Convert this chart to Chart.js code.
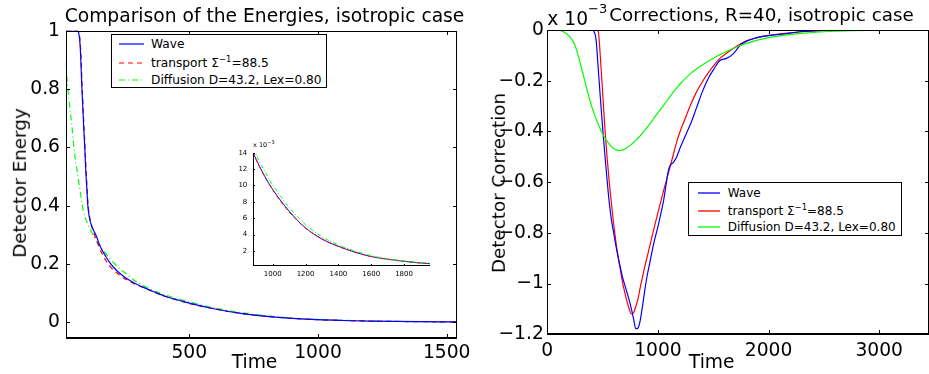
<!DOCTYPE html>
<html>
<head>
<meta charset="utf-8">
<script src="https://cdn.jsdelivr.net/npm/chart.js@4.4.0/dist/chart.umd.min.js"></script>
<style>
  body { margin: 0; background: #fff; }
  #wrap { position: relative; width: 929px; height: 374px; overflow: hidden; background: #fff;
          font-family: "DejaVu Sans", sans-serif; color: #000; }
  canvas { position: absolute; }
  .t { position: absolute; white-space: nowrap; font-size: 18.7px; line-height: 18.7px; }
  .rot { transform: translate(-50%, -50%) rotate(-90deg); }
  .legend { position: absolute; border: 1px solid #000; background: #fff; box-sizing: border-box; }
  .legend .row { position: absolute; height: 14px; line-height: 14px; font-size: 12.2px; white-space: nowrap; }
  .legend svg { position: absolute; }
  sup { font-size: 8.5px; vertical-align: 5px; line-height: 0; }
</style>
</head>
<body>
<div id="wrap">
  <canvas id="left" width="480" height="374" style="left:0;top:0"></canvas>
  <canvas id="inset" width="220" height="145" style="left:220px;top:135px"></canvas>
  <canvas id="right" width="459" height="374" style="left:470px;top:0"></canvas>

  <div class="t" style="left:264.5px;top:6.9px;transform:translateX(-50%)">Comparison of the Energies, isotropic case</div>
  <div class="t rot" style="left:19.5px;top:183px;font-size:18.3px;line-height:18.3px">Detector Energy</div>
  <div class="t" style="left:254.5px;top:352.8px;transform:translateX(-50%)">Time</div>

  <div class="t" style="left:547.3px;top:9.2px">x 10<span style="font-size:13px;vertical-align:12px;line-height:0">&minus;3</span></div>
  <div class="t" style="left:609.3px;top:5.5px;font-size:18.3px;line-height:18.3px">Corrections, R=40, isotropic case</div>
  <div class="t rot" style="left:498.7px;top:183.3px;font-size:18.3px;line-height:18.3px">Detector Correction</div>
  <div class="t" style="left:711.7px;top:352.5px;transform:translateX(-50%)">Time</div>

  <div class="t" style="left:253px;top:141.5px;font-size:6.5px;line-height:6.5px">x 10<span style="font-size:5px;vertical-align:3px;line-height:0">&minus;3</span></div>

  <div class="legend" style="left:111px;top:34px;width:216px;height:54px">
    <div class="row" style="left:39px;top:2.3px">Wave</div>
    <div class="row" style="left:39px;top:20.7px">transport &Sigma;<sup>&minus;1</sup>=88.5</div>
    <div class="row" style="left:39px;top:38.3px">Diffusion D=43.2, Lex=0.80</div>
    <svg style="left:7px;top:6.3px" width="25" height="6"><line x1="0" y1="3" x2="25" y2="3" stroke="#0000ff" stroke-width="1.2"/></svg>
    <svg style="left:7px;top:24.7px" width="25" height="6"><line x1="0" y1="3" x2="25" y2="3" stroke="#ff0000" stroke-width="1.2" stroke-dasharray="5 4"/></svg>
    <svg style="left:7px;top:42.3px" width="25" height="6"><line x1="0" y1="3" x2="25" y2="3" stroke="#00ff00" stroke-width="1.2" stroke-dasharray="6 3 1 3"/></svg>
  </div>

  <div class="legend" style="left:688px;top:182px;width:214px;height:54px;font-size:12px">
    <div class="row" style="left:38.7px;top:3.4px;font-size:12px">Wave</div>
    <div class="row" style="left:38.7px;top:20.7px;font-size:12px">transport &Sigma;<sup>&minus;1</sup>=88.5</div>
    <div class="row" style="left:38.7px;top:37.4px;font-size:12px">Diffusion D=43.2, Lex=0.80</div>
    <svg style="left:8.7px;top:7.4px" width="22" height="6"><line x1="0" y1="3" x2="22" y2="3" stroke="#0000ff" stroke-width="1.3"/></svg>
    <svg style="left:8.7px;top:24.7px" width="22" height="6"><line x1="0" y1="3" x2="22" y2="3" stroke="#ff0000" stroke-width="1.3"/></svg>
    <svg style="left:8.7px;top:41.4px" width="22" height="6"><line x1="0" y1="3" x2="22" y2="3" stroke="#00ff00" stroke-width="1.3"/></svg>
  </div>
</div>

<script>
// left panel: detector energy vs time
const leftTime = [20, 25, 30, 35, 40, 45, 50, 55, 60, 65, 68, 71, 74, 77, 80, 83, 86, 90, 94, 98,
  102, 106, 110, 115, 120, 128, 138, 150, 160, 175, 190, 205, 225, 250, 288, 320, 360, 411, 460, 500,
  600, 700, 800, 900, 1000, 1100, 1200, 1300, 1400, 1540];
const leftWave = [1, 1, 1, 1, 1, 1, 1, 1, 1, 1, 0.998, 0.99, 0.972, 0.935, 0.87, 0.8, 0.745, 0.67, 0.6, 0.52,
  0.46, 0.4, 0.37, 0.348, 0.333, 0.316, 0.298, 0.27, 0.25, 0.227, 0.207, 0.19, 0.172, 0.155, 0.134, 0.121, 0.106, 0.088, 0.076, 0.066,
  0.046, 0.031, 0.021, 0.0142, 0.0095, 0.0067, 0.0047, 0.0034, 0.0025, 0.0017];
const leftTransport = [1, 1, 1, 1, 1, 1, 1, 1, 1, 1, 1, 0.995, 0.982, 0.952, 0.9, 0.83, 0.77, 0.69, 0.62, 0.545,
  0.48, 0.415, 0.38, 0.352, 0.333, 0.31, 0.285, 0.258, 0.238, 0.214, 0.195, 0.18, 0.165, 0.15, 0.132, 0.12, 0.105, 0.088, 0.075, 0.065,
  0.046, 0.031, 0.021, 0.0141, 0.0094, 0.0066, 0.0047, 0.0034, 0.0025, 0.0017];
const leftDiffusion = [0.89, 0.835, 0.79, 0.745, 0.705, 0.665, 0.615, 0.575, 0.545, 0.515, 0.497, 0.48, 0.462, 0.445, 0.428, 0.41, 0.394, 0.378, 0.365, 0.354,
  0.345, 0.337, 0.329, 0.32, 0.311, 0.298, 0.282, 0.265, 0.253, 0.237, 0.221, 0.206, 0.188, 0.17, 0.143, 0.127, 0.11, 0.093, 0.08, 0.07,
  0.049, 0.034, 0.023, 0.0149, 0.0101, 0.0071, 0.005, 0.0036, 0.0026, 0.0018];
const leftXTicks = [500, 1000, 1500];
const leftYTicks = [0, 0.2, 0.4, 0.6, 0.8, 1];

// inset: tail of the energies, in units of 1e-3
const insetTime = [880, 920, 960, 1000, 1050, 1100, 1150, 1200, 1300, 1400, 1500, 1600, 1700, 1800, 1900, 1958];
const insetWave = [14.0, 12.3, 10.8, 9.5, 8.1, 6.85, 5.75, 4.8, 3.45, 2.55, 1.85, 1.3, 0.98, 0.72, 0.52, 0.44];
const insetTransport = [14.0, 12.25, 10.75, 9.45, 8.0, 6.75, 5.7, 4.78, 3.45, 2.55, 1.85, 1.3, 0.98, 0.72, 0.52, 0.44];
const insetDiffusion = [14.5, 12.9, 11.4, 10.05, 8.6, 7.3, 6.2, 5.2, 3.72, 2.72, 1.98, 1.4, 1.04, 0.77, 0.56, 0.48];
const insetXTicks = [1000, 1200, 1400, 1600, 1800];
const insetYTicks = [2, 4, 6, 8, 10, 12, 14];

// right panel: corrections, in units of 1e-3
const rightTime = [0, 100, 150, 200, 250, 300, 350, 400, 420, 440, 460, 480, 500, 520, 540, 560, 580, 600, 620, 640,
  660, 680, 700, 720, 740, 760, 780, 800, 820, 840, 860, 880, 900, 930, 960, 1000, 1050, 1100, 1140, 1170,
  1200, 1250, 1300, 1350, 1400, 1450, 1500, 1560, 1620, 1680, 1740, 1800, 1900, 2000, 2150, 2300, 2500, 2750, 3000];
const rightWave = [0, 0, 0, 0, 0, 0, 0, 0, -0.005, -0.035, -0.15, -0.27, -0.385, -0.49, -0.59, -0.68, -0.75, -0.8, -0.85, -0.895,
  -0.935, -0.975, -1.005, -1.035, -1.065, -1.1, -1.14, -1.178, -1.175, -1.145, -1.09, -1.03, -0.975, -0.91, -0.845, -0.775, -0.675, -0.545, -0.522, -0.5,
  -0.465, -0.415, -0.365, -0.305, -0.245, -0.195, -0.158, -0.12, -0.112, -0.094, -0.062, -0.044, -0.029, -0.022, -0.015, -0.006, -0.002, 0, 0];
const rightTransport = [0, 0, 0, 0, 0, 0, 0, 0, 0, 0, -0.005, -0.11, -0.245, -0.385, -0.5, -0.6, -0.685, -0.765, -0.835, -0.895,
  -0.945, -0.995, -1.035, -1.07, -1.1, -1.12, -1.115, -1.09, -1.06, -1.015, -0.975, -0.935, -0.9, -0.845, -0.79, -0.72, -0.635, -0.555, -0.49, -0.44,
  -0.4, -0.345, -0.29, -0.243, -0.205, -0.172, -0.142, -0.112, -0.092, -0.073, -0.056, -0.043, -0.03, -0.021, -0.013, -0.007, -0.002, 0, 0];
const rightDiffusion = [0, -0.001, -0.008, -0.025, -0.06, -0.135, -0.22, -0.3, -0.325, -0.35, -0.37, -0.392, -0.41, -0.425, -0.438, -0.45, -0.46, -0.467, -0.472, -0.475,
  -0.475, -0.473, -0.469, -0.464, -0.458, -0.451, -0.443, -0.435, -0.426, -0.417, -0.407, -0.396, -0.385, -0.368, -0.35, -0.326, -0.298, -0.268, -0.244, -0.228,
  -0.213, -0.19, -0.17, -0.153, -0.138, -0.124, -0.111, -0.097, -0.085, -0.073, -0.062, -0.053, -0.04, -0.03, -0.02, -0.013, -0.007, -0.003, -0.001];
const rightXTicks = [0, 1000, 2000, 3000];
const rightYTicks = [0, -0.2, -0.4, -0.6, -0.8, -1, -1.2];

const FONT = 'DejaVu Sans';
Chart.defaults.font.family = FONT;
Chart.defaults.color = '#000';

const pts = (xs, ys) => xs.map((x, i) => ({ x, y: ys[i] }));
const num = v => String(+v.toFixed(3));
const neg = v => v < 0 ? '\u2212' + num(-v) : num(v);

// matlab style box with inward ticks, drawn with fillRect
function frame(f) {
  return {
    id: 'frame',
    afterDraw(chart) {
      const { ctx, chartArea: a } = chart;
      const xs = chart.scales.x, ys = chart.scales.y;
      const l = Math.round(a.left), r = Math.round(a.right);
      const t = Math.round(a.top), b = Math.round(a.bottom);
      ctx.save();
      ctx.globalAlpha = 1;
      ctx.globalCompositeOperation = 'source-over';
      ctx.fillStyle = '#000';
      xs.ticks.forEach(tk => {
        const px = Math.round(xs.getPixelForValue(tk.value));
        ctx.fillRect(px, b - f.tick, 1, f.tick);
        if (f.box) ctx.fillRect(px, t, 1, f.tick);
      });
      ys.ticks.forEach(tk => {
        const py = Math.round(ys.getPixelForValue(tk.value));
        ctx.fillRect(l, py, f.tick, 1);
        if (f.box) ctx.fillRect(r - f.tick, py, f.tick, 1);
      });
      ctx.fillRect(l, t, 1, b - t);
      if (f.box) {
        ctx.fillRect(l, t, r - l, 1);
        ctx.fillRect(r - 1, t, 1, b - t);
      }
      ctx.fillRect(l, b - 1, r - l, f.bottomW);
      ctx.restore();
    }
  };
}

function makeChart(id, o) {
  return new Chart(document.getElementById(id), {
    type: 'line',
    data: {
      datasets: o.sets.map(s => ({
        data: pts(o.time, s.y),
        borderColor: s.color,
        borderWidth: o.lw,
        borderDash: s.dash || [],
        pointRadius: 0,
        fill: false,
        cubicInterpolationMode: 'monotone'
      }))
    },
    options: {
      responsive: false,
      animation: false,
      devicePixelRatio: 1,
      layout: { padding: o.pad },
      plugins: { legend: { display: false }, tooltip: { enabled: false } },
      scales: {
        x: {
          type: 'linear', min: o.xMin, max: o.xMax,
          afterBuildTicks: s => { s.ticks = o.xTicks.map(v => ({ value: v })); },
          afterFit: s => { s.height = o.xH; s.paddingLeft = 0; s.paddingRight = 0; },
          grid: { display: false, drawTicks: false }, border: { display: false },
          ticks: { font: { size: o.fs }, padding: o.xPad, maxRotation: 0, autoSkip: false, callback: v => String(v) }
        },
        y: {
          type: 'linear', min: o.yMin, max: o.yMax,
          afterBuildTicks: s => { s.ticks = o.yTicks.map(v => ({ value: v })); },
          afterFit: s => { s.width = o.yW; s.paddingTop = 0; s.paddingBottom = 0; },
          grid: { display: false, drawTicks: false }, border: { display: false },
          ticks: { font: { size: o.fs }, padding: o.yPad, autoSkip: false, callback: o.yFmt }
        }
      }
    },
    plugins: [frame(o.frame)]
  });
}

makeChart('left', {
  time: leftTime,
  sets: [
    { y: leftWave, color: '#0000ff' },
    { y: leftTransport, color: '#ff0000', dash: [5, 4] },
    { y: leftDiffusion, color: '#00ff00', dash: [6, 3, 1, 3] }
  ],
  xMin: 20, xMax: 1540, yMin: -0.052, yMax: 1,
  xTicks: leftXTicks, yTicks: leftYTicks, yFmt: num,
  pad: { top: 30.7, right: 23, left: 0, bottom: 0 },
  yW: 65.7, xH: 36.4, fs: 18.7, xPad: 4.5, yPad: 5.7, lw: 1.2,
  frame: { tick: 4, box: true, bottomW: 2 }
});

makeChart('inset', {
  time: insetTime,
  sets: [
    { y: insetDiffusion, color: '#00ff00', dash: [4, 2, 1, 2] },
    { y: insetTransport, color: '#ff0000', dash: [4, 3] },
    { y: insetWave, color: '#0000ff' }
  ],
  xMin: 878, xMax: 1958, yMin: 0.15, yMax: 14,
  xTicks: insetXTicks, yTicks: insetYTicks, yFmt: num,
  pad: { top: 17.7, right: 10, left: 0, bottom: 0 },
  yW: 32.7, xH: 14, fs: 7, xPad: 3.8, yPad: 5.4, lw: 1,
  frame: { tick: 2, box: false, bottomW: 1 }
});

makeChart('right', {
  time: rightTime,
  sets: [
    { y: rightDiffusion, color: '#00ff00' },
    { y: rightWave, color: '#0000ff' },
    { y: rightTransport, color: '#ff0000' }
  ],
  xMin: 0, xMax: 3450, yMin: -1.2, yMax: 0,
  xTicks: rightXTicks, yTicks: rightYTicks, yFmt: neg,
  pad: { top: 30, right: 0, left: 0, bottom: 0 },
  yW: 77.3, xH: 39.7, fs: 18.7, xPad: 5.3, yPad: 3.5, lw: 1.2,
  frame: { tick: 4, box: true, bottomW: 2 }
});
</script>
</body>
</html>
